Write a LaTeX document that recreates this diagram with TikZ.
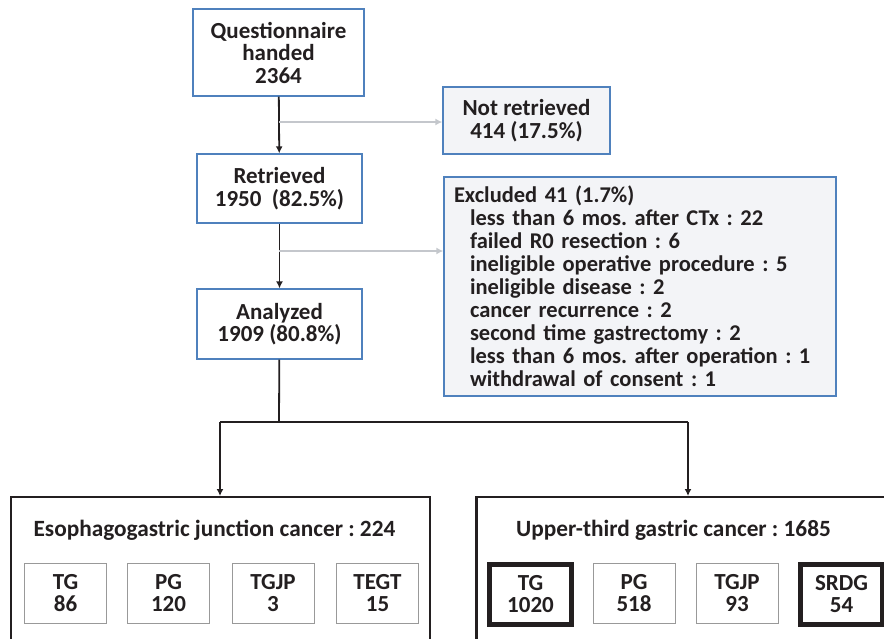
\documentclass[tikz,border=0pt]{standalone}
\usepackage{fontspec}
\setmainfont{Carlito}
\usepackage{tikz}
\usepackage{xcolor}
\usetikzlibrary{arrows.meta}
\usetikzlibrary{shapes}
\frenchspacing

\definecolor{boxblue}{HTML}{4F81BD}
\definecolor{boxfill}{HTML}{F3F4F7}
\definecolor{arrowgray}{HTML}{C4C7CC}
\definecolor{inkdark}{HTML}{231F20}

\tikzset{
  flowbox/.style={draw=boxblue, line width=1.3pt, inner sep=0pt, align=center,
                  text=inkdark, font=\fontsize{23}{22.5}\selectfont\bfseries},
  sidebox/.style={flowbox, fill=boxfill},
  groupbox/.style={draw=inkdark, line width=2.3pt, inner sep=0pt,
                   minimum width=419pt, minimum height=200pt},
  grouptitle/.style={inner sep=0pt, text=inkdark,
                     font=\fontsize{23.3}{24}\selectfont\bfseries},
  typebox/.style={draw=gray!80, line width=1pt, inner sep=0pt, align=center,
                  minimum width=82pt, minimum height=60pt, text=inkdark,
                  font=\fontsize{23}{22}\selectfont\bfseries},
  mainbox/.style={typebox, draw=inkdark, line width=4.5pt},
  mainarrow/.style={draw=inkdark, line width=1.8pt, -{Latex[length=7pt,width=7pt]}},
  sidearrow/.style={draw=arrowgray, line width=1.6pt, -{Latex[length=7pt,width=7pt]}}
}

\begin{document}
\begin{tikzpicture}[x=1pt,y=-1pt]
\clip (0,0) rectangle (884,638);

\node (handed) [flowbox, minimum width=171pt, minimum height=87pt]
       at (278.5,52.5) {Questionnaire\\handed\\2364};
\node (retrieved) [flowbox, minimum width=165pt, minimum height=69pt]
       at (279.5,188.5) {Retrieved\\1950~~(82.5\%)};
\node (analyzed) [flowbox, minimum width=165pt, minimum height=70pt]
       at (279.5,324) {Analyzed\\1909 (80.8\%)};
\node (notret) [sidebox, minimum width=167pt, minimum height=67pt]
       at (526.5,120.5) {Not retrieved\\414 (17.5\%)};
\node (excluded) [sidebox, minimum width=392pt, minimum height=219pt,
       text width=372pt, align=left, font=\fontsize{22.5}{23}\selectfont\bfseries]
       at (640,286.5) {Excluded 41 (1.7\%)\\
       \hspace*{16pt}less than 6 mos. after CTx : 22\\
       \hspace*{16pt}failed R0 resection : 6\\
       \hspace*{16pt}ineligible operative procedure : 5\\
       \hspace*{16pt}ineligible disease : 2\\
       \hspace*{16pt}cancer recurrence : 2\\
       \hspace*{16pt}second time gastrectomy : 2\\
       \hspace*{16pt}less than 6 mos. after operation : 1\\
       \hspace*{16pt}withdrawal of consent : 1};

% the two groups
\node (ejc) [groupbox, anchor=north] at (220.5,496) {};
\node (ugc) [groupbox, anchor=north] at (686,496) {};
\node (ejctitle) [grouptitle] at (214.5,530) {Esophagogastric junction cancer : 224};
\node (ugctitle) [grouptitle] at (673.5,530) {Upper-third gastric cancer : 1685};

\node (ejctg) [typebox] at (65.5,593.5) {TG\\86};
\node (ejcpg) [typebox] at (168.5,593.5) {PG\\120};
\node (ejctgjp) [typebox] at (273,593.5) {TGJP\\3};
\node (ejctegt) [typebox] at (377.5,593.5) {TEGT\\15};
\node (ugctg) [mainbox] at (530.5,594.5) {TG\\1020};
\node (ugcpg) [typebox] at (634,593.5) {PG\\518};
\node (ugctgjp) [typebox] at (737,593.5) {TGJP\\93};
\node (ugcsrdg) [mainbox] at (841.5,594.5) {SRDG\\54};

% connectors
\coordinate (fork1) at (279,122);
\coordinate (fork2) at (279,251);
\coordinate (split) at (279,422);
\coordinate (splitl) at (220,422);
\coordinate (splitr) at (688,422);

\draw [mainarrow] (handed) -- (retrieved);
\draw [sidearrow] (fork1) -- (fork1 -| notret.west);
\draw [mainarrow] (retrieved) -- (analyzed);
\draw [sidearrow] (fork2) -- (fork2 -| excluded.west);
\draw [draw=inkdark, line width=1.8pt] (analyzed) -- (split);
\draw [draw=inkdark, line width=1.8pt] (splitl) -- (splitr);
\draw [mainarrow] (splitl) -- (splitl |- ejc.north);
\draw [mainarrow] (splitr) -- (splitr |- ugc.north);
\end{tikzpicture}
\end{document}
